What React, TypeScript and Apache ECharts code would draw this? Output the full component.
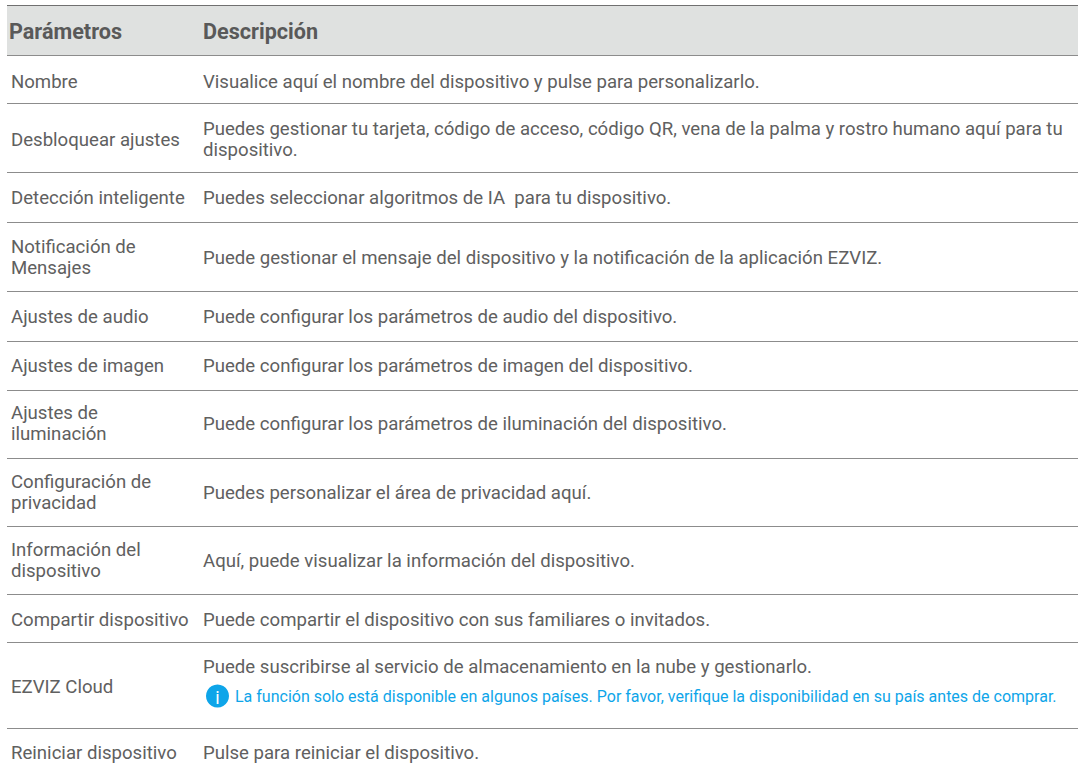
import React, { useEffect, useRef } from "react";
import * as echarts from "echarts";

const headers = ["Parámetros", "Descripción"];
const rowParams = [
  ["Nombre"],
  ["Desbloquear ajustes"],
  ["Detección inteligente"],
  ["Notificación de", "Mensajes"],
  ["Ajustes de audio"],
  ["Ajustes de imagen"],
  ["Ajustes de", "iluminación"],
  ["Configuración de", "privacidad"],
  ["Información del", "dispositivo"],
  ["Compartir dispositivo"],
  ["EZVIZ Cloud"],
  ["Reiniciar dispositivo"],
];
const rowDescs = [
  ["Visualice aquí el nombre del dispositivo y pulse para personalizarlo."],
  ["Puedes gestionar tu tarjeta, código de acceso, código QR, vena de la palma y rostro humano aquí para tu", "dispositivo."],
  ["Puedes seleccionar algoritmos de IA  para tu dispositivo."],
  ["Puede gestionar el mensaje del dispositivo y la notificación de la aplicación EZVIZ."],
  ["Puede configurar los parámetros de audio del dispositivo."],
  ["Puede configurar los parámetros de imagen del dispositivo."],
  ["Puede configurar los parámetros de iluminación del dispositivo."],
  ["Puedes personalizar el área de privacidad aquí."],
  ["Aquí, puede visualizar la información del dispositivo."],
  ["Puede compartir el dispositivo con sus familiares o invitados."],
  ["Puede suscribirse al servicio de almacenamiento en la nube y gestionarlo."],
  ["Pulse para reiniciar el dispositivo."],
];
const noteText = "La función solo está disponible en algunos países. Por favor, verifique la disponibilidad en su país antes de comprar.";
const rowLines = [55, 103, 172, 222, 291, 341, 390, 458, 526, 594, 642, 728];
const rowCenters = [81.8, 139.8, 197.8, 257.8, 316.8, 365.8, 423.8, 492.8, 560.8, 619.8, 686.8, 752.8];

const FONT = "Roboto";
const INK = "#606060";
const HEAD_INK = "#595959";
const BLUE = "#0ea5e9";
const RULE = "#8c8c8c";

function hline(y: number, color = RULE) {
  return { type: "line", shape: { x1: 7, y1: y + 0.5, x2: 1078, y2: y + 0.5 }, style: { stroke: color, lineWidth: 1 }, silent: true };
}
function label(x: number, y: number, text: string, size = 18.6, color = INK, weight: any = 400) {
  return { type: "text", x, y, style: { text, fill: color, font: `${weight} ${size}px ${FONT}`, textVerticalAlign: "middle", textBaseline: "middle", textAlign: "left" }, silent: true };
}
function lines(x: number, cy: number, ls: string[], lh: number) {
  return ls.map((t, i) => label(x, cy + (i - (ls.length - 1) / 2) * lh, t));
}

export default function App() {
  const ref = useRef<HTMLDivElement>(null);
  useEffect(() => {
    const chart = echarts.init(ref.current!, null, { renderer: "svg" });
    const elements: any[] = [
      { type: "rect", shape: { x: 7, y: 5, width: 1071, height: 50 }, style: { fill: "#dfe1e0" }, silent: true },
      hline(5, "#707070"),
      label(9, 31, headers[0], 21.6, HEAD_INK, 700),
      label(203, 31, headers[1], 21.6, HEAD_INK, 700),
    ];
    rowLines.forEach((y) => elements.push(hline(y)));
    rowParams.forEach((ls, i) => elements.push(...lines(11, rowCenters[i], ls, 21)));
    rowDescs.forEach((ls, i) => {
      if (i === 10) elements.push(label(203, 666.8, ls[0]));
      else elements.push(...lines(203, rowCenters[i], ls, 21));
    });
    elements.push({ type: "circle", shape: { cx: 217.5, cy: 696, r: 11.5 }, style: { fill: BLUE }, silent: true });
    elements.push({ type: "text", x: 217.5, y: 697, style: { text: "i", fill: "#fff", font: `400 18px ${FONT}`, textAlign: "center", textVerticalAlign: "middle", textBaseline: "middle" }, silent: true });
    elements.push(label(235, 696.6, noteText, 16, BLUE));
    chart.setOption({ animation: false, graphic: { elements } });
    return () => chart.dispose();
  }, []);
  return <div ref={ref} style={{ position: "absolute", left: 0, top: 0, width: 1078, height: 771, background: "#fff" }} />;
}
